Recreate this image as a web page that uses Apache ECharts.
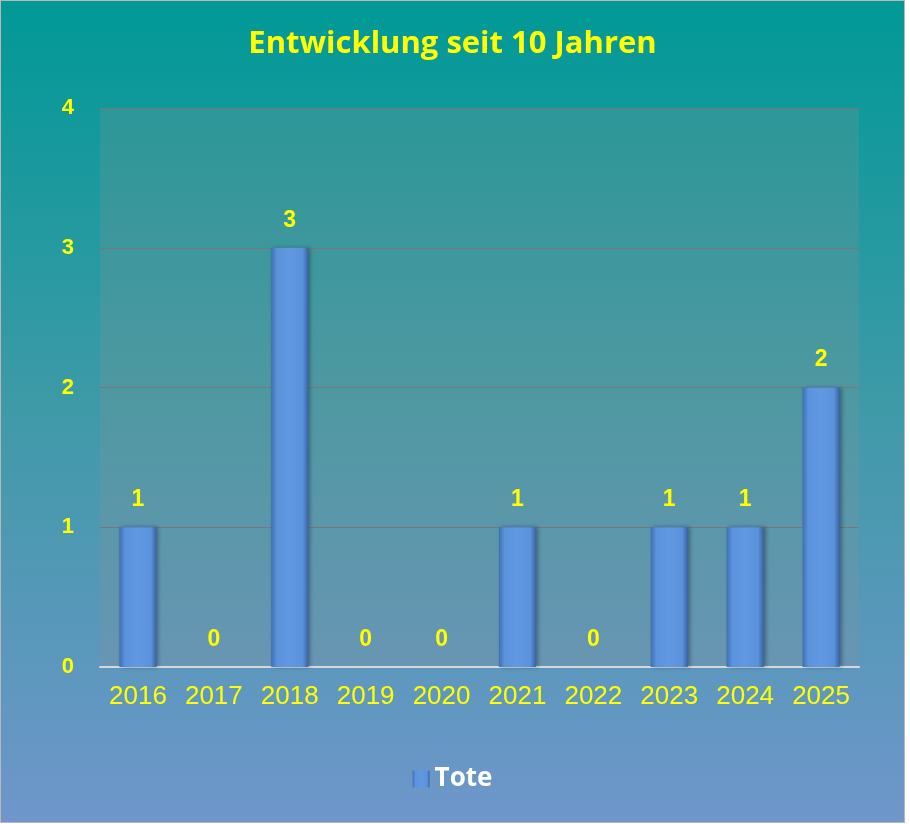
<!DOCTYPE html>
<html>
<head>
<meta charset="utf-8">
<script src="https://cdn.jsdelivr.net/npm/echarts@6/dist/echarts.min.js"></script>
<style>
  html, body { margin: 0; padding: 0; background: #fff; }
  #box { width: 903px; height: 821px; border: 1px solid #b8b8b8; }
</style>
</head>
<body>
<div id="box"></div>
<script>
  const years = ['2016', '2017', '2018', '2019', '2020', '2021', '2022', '2023', '2024', '2025'];
  const tote = [1, 0, 3, 0, 0, 1, 0, 1, 1, 2];
  const titleText = 'Entwicklung seit 10 Jahren';
  const seriesName = 'Tote';

  const chart = echarts.init(document.getElementById('box'));

  const barColor = new echarts.graphic.LinearGradient(0, 0, 1, 0, [
    { offset: 0, color: '#3f6fb0' },
    { offset: 0.15, color: '#5a92dc' },
    { offset: 0.5, color: '#6099e2' },
    { offset: 0.85, color: '#5a92dc' },
    { offset: 1, color: '#3a64a0' },
  ]);

  chart.setOption({
    backgroundColor: new echarts.graphic.LinearGradient(0, 0, 0, 1, [
      { offset: 0, color: '#009996' },
      { offset: 0.5, color: '#3f9aa8' },
      { offset: 1, color: '#6f96cb' },
    ]),
    title: {
      text: titleText,
      left: 'center',
      top: 23,
      textStyle: {
        color: '#ffff00',
        fontFamily: 'Open Sans',
        fontWeight: 'bold',
        fontSize: 31,
      },
    },
    legend: {
      bottom: 25,
      left: 'center',
      itemWidth: 17,
      itemHeight: 17,
      itemGap: 10,
      data: [{ name: seriesName, icon: 'rect' }],
      textStyle: {
        color: '#ffffff',
        fontFamily: 'Open Sans',
        fontWeight: 'bold',
        fontSize: 26,
      },
    },
    grid: {
      left: 99,
      right: 45,
      top: 107,
      bottom: 155,
      show: true,
      backgroundColor: 'rgba(145, 145, 145, 0.22)',
      borderWidth: 0,
    },
    xAxis: {
      type: 'category',
      data: years,
      axisLine: { lineStyle: { color: '#d8d8d8', width: 2 } },
      axisTick: { show: false },
      axisLabel: {
        color: '#ffff00',
        fontFamily: 'Liberation Sans',
        fontSize: 26,
        margin: 17,
      },
    },
    yAxis: {
      type: 'value',
      min: 0,
      max: 4,
      interval: 1,
      axisLine: { show: false },
      axisTick: { show: false },
      axisLabel: {
        color: '#ffff00',
        fontFamily: 'Liberation Sans',
        fontWeight: 'bold',
        fontSize: 22,
        margin: 26,
      },
      splitLine: { lineStyle: { color: '#7d7476', width: 1.2 } },
    },
    series: [
      {
        name: seriesName,
        type: 'bar',
        data: tote,
        barWidth: 37,
        itemStyle: {
          color: barColor,
          shadowColor: 'rgba(0,0,40,0.35)',
          shadowBlur: 4,
          shadowOffsetX: 2,
        },
        label: {
          show: true,
          position: 'top',
          distance: 16,
          color: '#ffff00',
          fontFamily: 'Liberation Sans',
          fontWeight: 'bold',
          fontSize: 23,
        },
      },
    ],
  });
</script>
</body>
</html>
